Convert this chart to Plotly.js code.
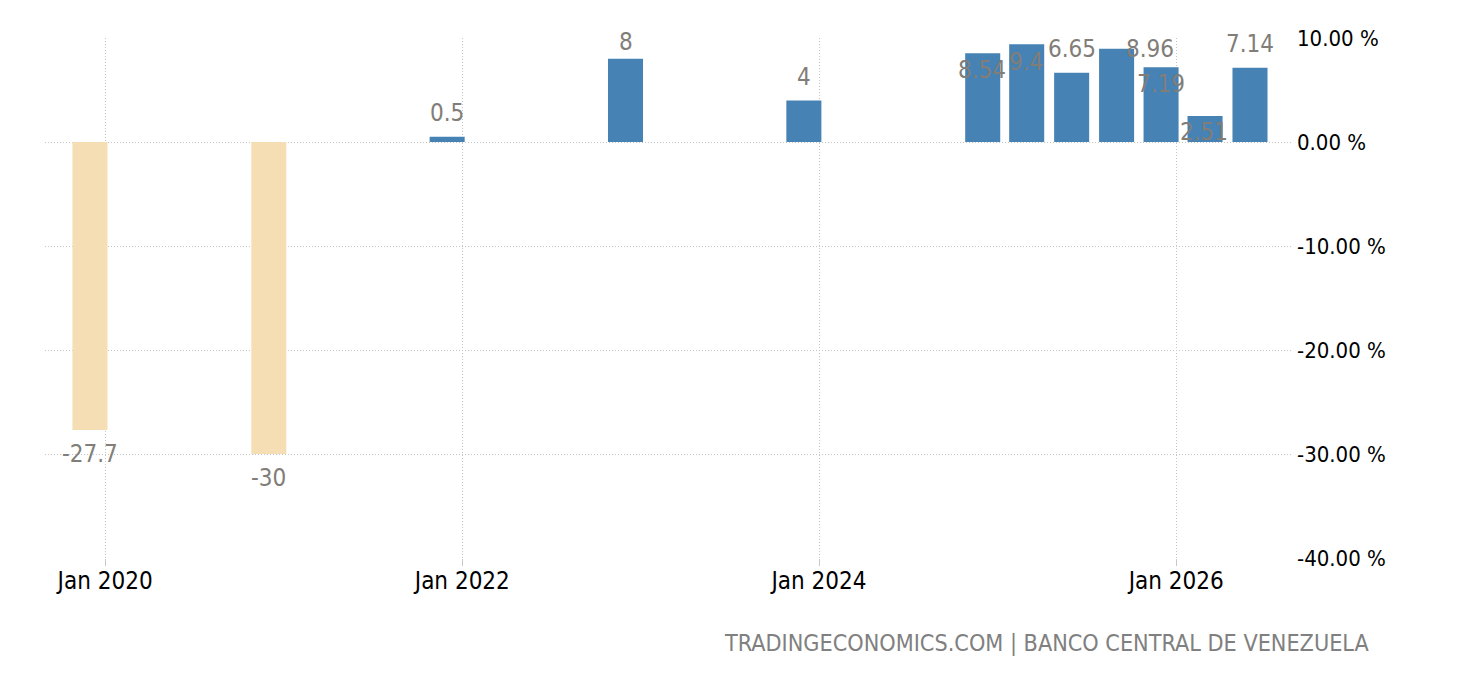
<!DOCTYPE html>
<html>
<head>
<meta charset="utf-8">
<script src="https://cdn.plot.ly/plotly-3.0.1.min.js"></script>
<style>html,body{margin:0;padding:0;background:#fff}#chart{width:1460px;height:680px}</style>
</head>
<body>
<div id="chart"></div>
<script>
var dates = ['2019-12-01','2020-12-01','2021-12-01','2022-12-01','2023-12-01','2024-12-01','2025-03-01','2025-06-01','2025-09-01','2025-12-01','2026-03-01','2026-06-01'];
var values = [-27.7,-30,0.5,8,4,8.54,9.4,6.65,8.96,7.19,2.51,7.14];
var valueLabels = ['-27.7','-30','0.5','8','4','8.54','9.4','6.65','8.96','7.19','2.51','7.14'];
var xTickVals = ['2020-01-01','2022-01-01','2024-01-01','2026-01-01'];
var xTickText = ['Jan 2020','Jan 2022','Jan 2024','Jan 2026'];
var yTickVals = [10,0,-10,-20,-30,-40];
var yTickText = ['10.00 %','0.00 %','-10.00 %','-20.00 %','-30.00 %','-40.00 %'];
var labelDx = [0,0,0,0,0,-1,-1,0,33,0,-1,0];
var labelDy = [-24,-24,24,17,23,-17,-18,24,0,-17,-16,24];
var FONT = '"DejaVu Sans Condensed", "DejaVu Sans", sans-serif';

var trace = {
  type:'bar', x:dates, y:values, width:71.7*86400000,
  marker:{color:values.map(function(v){return v<0?'#F5DEB3':'#4682B4';}), line:{width:0}},
  hoverinfo:'x+y'
};
var annotations = dates.map(function(d,i){
  return {x:d, y:values[i], xref:'x', yref:'y', text:valueLabels[i], showarrow:false,
    xanchor:'center', yanchor:'middle', xshift:labelDx[i], yshift:labelDy[i],
    font:{family:FONT,size:24,color:'#817d78'}};
});
annotations.push({xref:'paper',yref:'paper',x:(1372-45)/1248,y:-(643-558)/520.5,xanchor:'right',yanchor:'middle',
  showarrow:false,text:'TRADINGECONOMICS.COM | BANCO CENTRAL DE VENEZUELA',
  font:{family:FONT,size:23.2,color:'#808080'}});
var layout = {
  width:1460,height:680,paper_bgcolor:'#fff',plot_bgcolor:'#fff',showlegend:false,
  margin:{l:45,r:167,t:37.5,b:122},
  font:{family:FONT,size:22,color:'#000'},
  xaxis:{type:'date',range:['2019-08-31','2026-08-28'],tickmode:'array',tickvals:xTickVals,ticktext:xTickText,
    showgrid:true,gridcolor:'#c4c4c4',griddash:'1px,2px',gridwidth:1,ticks:'outside',ticklen:7,tickcolor:'#c8c8c8',
    ticklabelstandoff:-6,
    tickfont:{family:FONT,size:24,color:'#000'},showline:false,zeroline:false,automargin:false},
  yaxis:{side:'right',range:[-40,10],tickmode:'array',tickvals:yTickVals,ticktext:yTickText,
    showgrid:true,gridcolor:'#c4c4c4',griddash:'1px,2px',gridwidth:1,ticks:'',ticklabelstandoff:3,
    tickfont:{family:FONT,size:22,color:'#000'},showline:false,zeroline:false,automargin:false},
  annotations:annotations
};
Plotly.newPlot('chart',[trace],layout,{displayModeBar:false,responsive:false});
</script>
</body>
</html>
